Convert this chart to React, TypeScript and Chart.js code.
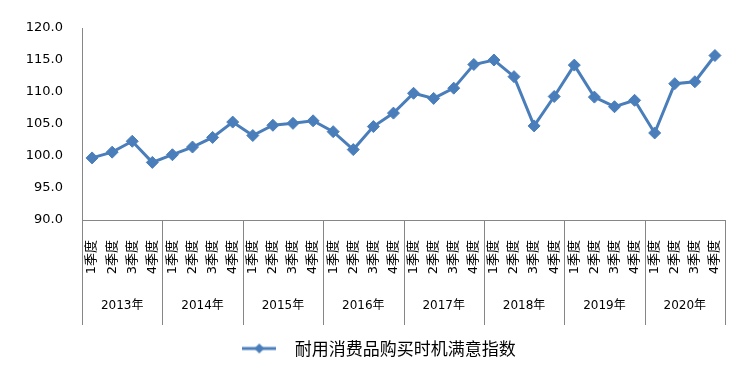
import React, { useEffect, useRef } from "react";
import { Chart, registerables } from "chart.js";

Chart.register(...registerables);

const years = ["2013年", "2014年", "2015年", "2016年", "2017年", "2018年", "2019年", "2020年"];
const quarters = ["1季度", "2季度", "3季度", "4季度"];
const seriesName = "耐用消费品购买时机满意指数";
const values = [
  99.7, 100.6, 102.3, 99.0,
  100.2, 101.4, 102.9, 105.3,
  103.2, 104.8, 105.1, 105.5,
  103.8, 101.0, 104.6, 106.7,
  109.8, 109.0, 110.6, 114.3,
  115.0, 112.4, 104.7, 109.3,
  114.2, 109.2, 107.7, 108.7,
  103.6, 111.3, 111.6, 115.7,
];
const yMin = 90;
const yMax = 120;
const yStep = 5;

const LINE = "#4A7EBB";
const AXIS = "#868686";

const labels: string[] = [];
years.forEach(() => quarters.forEach((q) => labels.push(q)));

const yearPlugin = {
  id: "yearGroups",
  afterDraw(chart: any) {
    const ctx = chart.ctx;
    const xs = chart.scales.x;
    const area = chart.chartArea;
    const bottom = area.bottom + 105;
    ctx.save();
    ctx.strokeStyle = AXIS;
    ctx.lineWidth = 1;
    const n = labels.length;
    for (let i = 0; i <= years.length; i++) {
      const idx = i * quarters.length;
      let x: number;
      if (idx === 0) x = area.left;
      else if (idx >= n) x = area.right;
      else x = (xs.getPixelForValue(idx - 1) + xs.getPixelForValue(idx)) / 2;
      const px = Math.round(x) + 0.5;
      ctx.beginPath();
      ctx.moveTo(px, area.bottom);
      ctx.lineTo(px, bottom);
      ctx.stroke();
    }
    ctx.fillStyle = "#000";
    ctx.font = "12px 'DejaVu Sans', 'Noto Sans CJK SC', sans-serif";
    ctx.textAlign = "center";
    ctx.textBaseline = "middle";
    years.forEach((y, i) => {
      const a = xs.getPixelForValue(i * 4);
      const b = xs.getPixelForValue(i * 4 + 3);
      ctx.fillText(y, (a + b) / 2, area.bottom + 86);
    });
    ctx.restore();
  },
};

function makeLegendIcon(): HTMLCanvasElement {
  const c = document.createElement("canvas");
  c.width = 34;
  c.height = 14;
  const g = c.getContext("2d")!;
  g.strokeStyle = LINE;
  g.lineWidth = 3;
  g.beginPath();
  g.moveTo(0, 7);
  g.lineTo(34, 7);
  g.stroke();
  g.fillStyle = LINE;
  g.beginPath();
  g.moveTo(17, 2);
  g.lineTo(22, 7);
  g.lineTo(17, 12);
  g.lineTo(12, 7);
  g.closePath();
  g.fill();
  return c;
}

export default function App() {
  const ref = useRef<HTMLCanvasElement | null>(null);
  useEffect(() => {
    document.body.style.margin = "0";
    const icon = makeLegendIcon();
    const chart = new Chart(ref.current!, {
      type: "line",
      data: {
        labels,
        datasets: [
          {
            label: seriesName,
            data: values,
            borderColor: LINE,
            backgroundColor: LINE,
            borderWidth: 3,
            pointStyle: "rectRot",
            pointRadius: 6,
            pointHoverRadius: 6,
            pointBackgroundColor: LINE,
            pointBorderColor: LINE,
            pointBorderWidth: 1,
            tension: 0,
            yAxisID: "y",
          },
        ],
      },
      options: {
        animation: false,
        responsive: false,
        layout: { padding: { top: 28, left: 0, right: 0, bottom: 12 } },
        plugins: {
          tooltip: { enabled: false },
          legend: {
            position: "bottom",
            labels: {
              usePointStyle: true,
              pointStyleWidth: 54,
              padding: 10,
              color: "#000",
              font: { size: 17, family: "'Noto Sans CJK SC', sans-serif" },
              generateLabels: () => [
                {
                  text: seriesName,
                  pointStyle: icon,
                  fillStyle: LINE,
                  strokeStyle: LINE,
                  lineWidth: 0,
                  datasetIndex: 0,
                  fontColor: "#000",
                } as any,
              ],
            },
          },
        },
        scales: {
          x: {
            type: "category",
            offset: true,
            grid: {
              display: true,
              drawOnChartArea: false,
              drawTicks: true,
              tickLength: 8,
              color: "rgba(0,0,0,0)",
              offset: true,
            },
            border: { display: true, color: AXIS, width: 1 },
            ticks: {
              autoSkip: false,
              minRotation: 90,
              maxRotation: 90,
              padding: 12,
              color: "#000",
              font: { size: 13, family: "'DejaVu Sans', 'Noto Sans CJK SC', sans-serif" },
            },
            afterFit: (s: any) => {
              s.height = 110;
            },
          },
          y: {
            position: "left",
            min: yMin,
            max: yMax,
            grid: { display: false, drawTicks: false },
            border: { display: true, color: AXIS, width: 1 },
            ticks: {
              stepSize: yStep,
              padding: 19,
              color: "#000",
              font: { size: 13, family: "'DejaVu Sans', sans-serif" },
              callback: (v: any) => Number(v).toFixed(1),
            },
            afterFit: (s: any) => {
              s.width = 82;
            },
          },
          yr: {
            position: "right",
            display: true,
            grid: { display: false, drawTicks: false },
            border: { display: false },
            ticks: { display: false },
            afterFit: (s: any) => {
              s.width = 23;
            },
          },
        },
      },
      plugins: [yearPlugin],
    } as any);
    return () => chart.destroy();
  }, []);
  return (
    <div style={{ width: 748, height: 379, background: "#fff" }}>
      <canvas ref={ref} width={748} height={379} style={{ display: "block" }} />
    </div>
  );
}
